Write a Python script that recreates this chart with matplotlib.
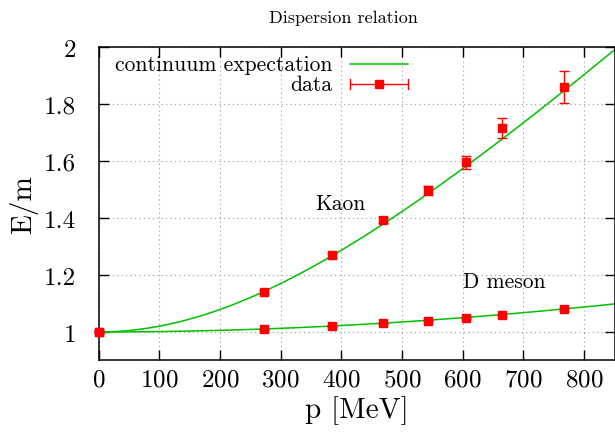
import numpy as np
import matplotlib.pyplot as plt
from matplotlib.ticker import FormatStrFormatter

plt.rcParams['font.family'] = 'cmr10'
plt.rcParams['axes.formatter.use_mathtext'] = True

# momenta (MeV) of the lattice points
p_data = [0, 272, 384, 469, 542, 606, 665, 766]

# E/m for the kaon and its errors
kaon_E = [1.0, 1.141, 1.269, 1.393, 1.497, 1.595, 1.716, 1.860]
kaon_err = [0.004, 0.007, 0.008, 0.011, 0.016, 0.022, 0.034, 0.057]

# E/m for the D meson and its errors
dmes_E = [1.0, 1.009, 1.020, 1.030, 1.040, 1.049, 1.060, 1.079]
dmes_err = [0.003, 0.003, 0.003, 0.003, 0.003, 0.003, 0.003, 0.004]

# masses in MeV for the continuum dispersion E = sqrt(m^2 + p^2)
m_kaon = 494.0
m_dmes = 1870.0

green = '#00c000'
red = '#ff0000'

fig = plt.figure(figsize=(6.15, 4.35), dpi=100)
ax = fig.add_axes([0.1602, 0.169, 0.8390, 0.7207])

p = np.linspace(0, 850, 400)
ax.plot(p, np.sqrt(1 + (p / m_kaon) ** 2), color=green, lw=1.1, zorder=2)
ax.plot(p, np.sqrt(1 + (p / m_dmes) ** 2), color=green, lw=1.1, zorder=2)

for E, err in [(kaon_E, kaon_err), (dmes_E, dmes_err)]:
    ax.errorbar(p_data, E, yerr=err, fmt='s', color=red, ms=5.5,
                capsize=3.5, elinewidth=1.0, capthick=1.0, zorder=3,
                clip_on=False)

ax.set_xlim(0, 850)
ax.set_ylim(0.9, 2.0)
ax.set_xticks(np.arange(0, 850, 100))
ax.set_yticks([1, 1.2, 1.4, 1.6, 1.8, 2])
ax.yaxis.set_major_formatter(FormatStrFormatter('%g'))
ax.tick_params(direction='in', length=7, width=1, top=True, right=True,
               labelsize=18)
ax.tick_params(axis='y', pad=16)
ax.tick_params(axis='x', pad=6)
ax.grid(True, linestyle=(0, (1, 3)), color='#999999', lw=0.8)
for s in ax.spines.values():
    s.set_linewidth(1.1)

ax.set_xlabel('p [MeV]', fontsize=21, labelpad=3)
ax.set_ylabel('E/m', fontsize=21, labelpad=4)
fig.text(0.558, 0.958, 'Dispersion relation', fontsize=13,
         ha='center', va='center')

ax.text(398, 1.453, 'Kaon', fontsize=15.5, ha='center', va='center')
ax.text(669, 1.179, 'D meson', fontsize=15.5, ha='center', va='center')

# key drawn by hand, text right-aligned in front of the samples
tr = ax.transAxes
ax.text(0.4525, 0.946, 'continuum expectation', transform=tr, fontsize=15.5,
        ha='right', va='center')
ax.plot([0.4874, 0.5998], [0.946, 0.946], transform=tr, color=green, lw=1.1)
ax.text(0.4525, 0.882, 'data', transform=tr, fontsize=15.5,
        ha='right', va='center')
ax.plot([0.4874, 0.5998], [0.882, 0.882], transform=tr, color=red, lw=1.0)
for xc in [0.4874, 0.5998]:
    ax.plot([xc, xc], [0.866, 0.898], transform=tr, color=red, lw=1.0)
ax.plot([0.5436], [0.882], 's', transform=tr, color=red, ms=5.5)

fig.savefig('out.png', dpi=100)
